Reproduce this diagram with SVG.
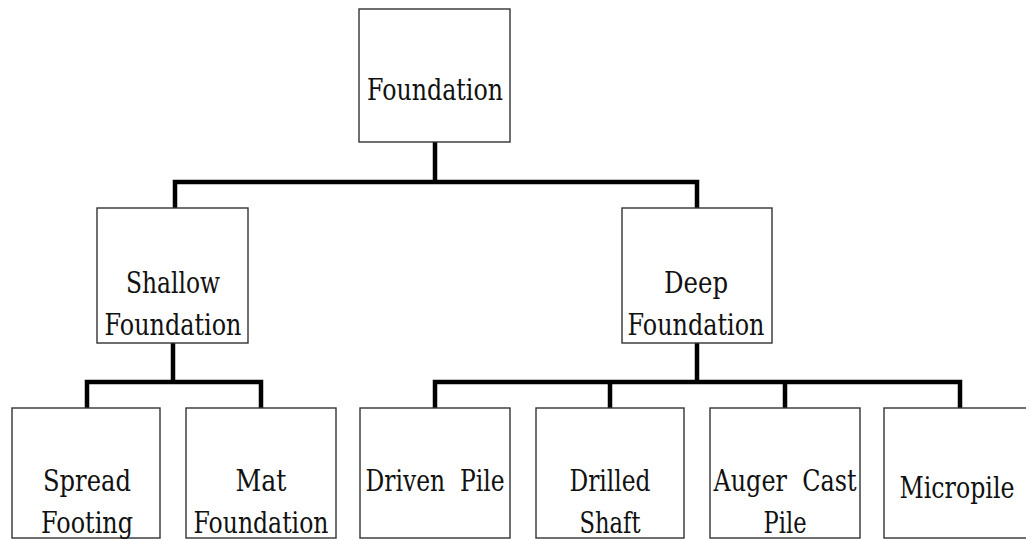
<svg xmlns="http://www.w3.org/2000/svg" width="1026" height="540" viewBox="0 0 1026 540">
<style>
.box{fill:#fff;stroke:#333;stroke-width:1.4}
.t{font-size:30px;fill:#111;text-anchor:middle}
.c{fill:none;stroke:#000;stroke-width:4.5;stroke-linejoin:miter;stroke-linecap:square}
</style>
<rect width="1026" height="540" fill="#fff"/>
<g id="connectors">
<path class="c" d="M435,143 V182 M175,182 H697 M175,182 V207 M697,182 V207"/>
<path class="c" d="M173,344 V382 M87,382 H261 M87,382 V407 M261,382 V407"/>
<path class="c" d="M697,344 V382 M435,382 H960 M435,382 V407 M610,382 V407 M785,382 V407 M960,382 V407"/>
</g>
<g font-family="DejaVu Serif, Liberation Serif, serif">
<g id="foundation"><rect class="box" x="359" y="9" width="151" height="133"/><text class="t" x="435" y="100" textLength="136" lengthAdjust="spacingAndGlyphs">Foundation</text></g>
<g id="shallow"><rect class="box" x="97" y="208" width="151" height="135"/><text class="t" x="173" y="293" textLength="94" lengthAdjust="spacingAndGlyphs">Shallow</text><text class="t" x="173" y="335" textLength="137" lengthAdjust="spacingAndGlyphs">Foundation</text></g>
<g id="deep"><rect class="box" x="622" y="208" width="150" height="135"/><text class="t" x="696" y="293" textLength="64" lengthAdjust="spacingAndGlyphs">Deep</text><text class="t" x="696" y="335" textLength="137" lengthAdjust="spacingAndGlyphs">Foundation</text></g>
<g id="spread"><rect class="box" x="12" y="408" width="148" height="130"/><text class="t" x="87" y="491" textLength="88" lengthAdjust="spacingAndGlyphs">Spread</text><text class="t" x="87" y="533" textLength="92" lengthAdjust="spacingAndGlyphs">Footing</text></g>
<g id="mat"><rect class="box" x="186" y="408" width="150" height="130"/><text class="t" x="261" y="491" textLength="51" lengthAdjust="spacingAndGlyphs">Mat</text><text class="t" x="261" y="533" textLength="135" lengthAdjust="spacingAndGlyphs">Foundation</text></g>
<g id="driven"><rect class="box" x="360" y="408" width="150" height="130"/><text class="t" x="435" y="491" textLength="139" lengthAdjust="spacingAndGlyphs" xml:space="preserve">Driven  Pile</text></g>
<g id="drilled"><rect class="box" x="536" y="408" width="148" height="130"/><text class="t" x="610" y="491" textLength="81" lengthAdjust="spacingAndGlyphs">Drilled</text><text class="t" x="610" y="533" textLength="61" lengthAdjust="spacingAndGlyphs">Shaft</text></g>
<g id="auger"><rect class="box" x="710" y="408" width="150" height="130"/><text class="t" x="785" y="491" textLength="143" lengthAdjust="spacingAndGlyphs" xml:space="preserve">Auger  Cast</text><text class="t" x="785" y="533" textLength="43" lengthAdjust="spacingAndGlyphs">Pile</text></g>
<g id="micropile"><rect class="box" x="884" y="408" width="152" height="130"/><text class="t" x="957" y="498" textLength="115" lengthAdjust="spacingAndGlyphs">Micropile</text></g>
</g>
</svg>
